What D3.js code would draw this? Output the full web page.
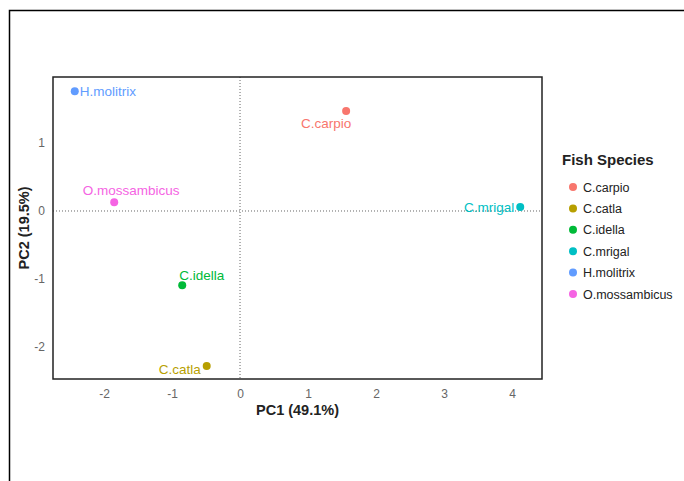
<!DOCTYPE html>
<html>
<head>
<meta charset="utf-8">
<script src="https://cdn.jsdelivr.net/npm/d3@7"></script>
<style>
  body { margin: 0; background: #fff; font-family: Arial, "Liberation Sans", sans-serif; }
</style>
</head>
<body>
<div id="chart"></div>
<script>
// ---- Data --------------------------------------------------------------------
const species = ['C.carpio', 'C.catla', 'C.idella', 'C.mrigal', 'H.molitrix', 'O.mossambicus'];
const pc1     = [1.56, -0.49, -0.85, 4.12, -2.43, -1.85];
const pc2     = [1.47, -2.28, -1.09, 0.06, 1.76, 0.13];
const colors  = ['#F8766D', '#B79F00', '#00BA38', '#00BFC4', '#619CFF', '#F564E3'];
const xTicks  = [-2, -1, 0, 1, 2, 3, 4];
const yTicks  = [-2, -1, 0, 1];

// repelled label placement (dx, dy, anchor) — layout only
const labelPos = {
  'C.carpio':      [-20, 17, 'middle'],
  'C.catla':       [-6, 8, 'end'],
  'C.idella':      [-3, -5, 'start'],
  'C.mrigal':      [-6, 5, 'end'],
  'H.molitrix':    [5, 5, 'start'],
  'O.mossambicus': [17, -7, 'middle']
};

const W = 684, H = 481;
const P = { left: 53, right: 542, top: 77, bottom: 379 };

const svg = d3.select('#chart').append('svg')
  .attr('width', W).attr('height', H);

// outer frame (top + left only)
svg.append('path')
  .attr('d', `M9.5,${H} L9.5,10.5 L${W},10.5`)
  .attr('fill', 'none').attr('stroke', '#000').attr('stroke-width', 1.5);

const x = d3.scaleLinear().domain([-2.75, 4.44]).range([P.left, P.right]);
const y = d3.scaleLinear().domain([-2.47, 1.97]).range([P.bottom, P.top]);

// ---- Reference lines ---------------------------------------------------------
svg.append('line')
  .attr('x1', P.left).attr('x2', P.right).attr('y1', y(0)).attr('y2', y(0))
  .attr('stroke', '#666').attr('stroke-width', 1).attr('stroke-dasharray', '1,2');
svg.append('line')
  .attr('x1', x(0)).attr('x2', x(0)).attr('y1', P.top).attr('y2', P.bottom)
  .attr('stroke', '#666').attr('stroke-width', 1).attr('stroke-dasharray', '1,2');

// ---- Axes --------------------------------------------------------------------
svg.append('g')
  .attr('transform', `translate(0,${P.bottom})`)
  .call(d3.axisBottom(x).tickValues(xTicks).tickFormat(d => String(d)).tickSize(0).tickPadding(10))
  .call(g => g.select('.domain').remove())
  .call(g => g.selectAll('text').style('font-size', '12px').attr('fill', '#666'));

svg.append('g')
  .attr('transform', `translate(${P.left},0)`)
  .call(d3.axisLeft(y).tickValues(yTicks).tickFormat(d => String(d)).tickSize(0).tickPadding(8))
  .call(g => g.select('.domain').remove())
  .call(g => g.selectAll('text').style('font-size', '12px').attr('fill', '#666'));

// panel border
svg.append('rect')
  .attr('x', P.left).attr('y', P.top)
  .attr('width', P.right - P.left).attr('height', P.bottom - P.top)
  .attr('fill', 'none').attr('stroke', '#222').attr('stroke-width', 1.5);

// axis titles
svg.append('text')
  .attr('x', (P.left + P.right) / 2).attr('y', 415)
  .attr('text-anchor', 'middle')
  .style('font-size', '14.5px').style('font-weight', 'bold').attr('fill', '#222')
  .text('PC1 (49.1%)');

svg.append('text')
  .attr('transform', `translate(29,${(P.top + P.bottom) / 2}) rotate(-90)`)
  .attr('text-anchor', 'middle')
  .style('font-size', '14.5px').style('font-weight', 'bold').attr('fill', '#222')
  .text('PC2 (19.5%)');

// ---- Points + labels ---------------------------------------------------------
species.forEach((s, i) => {
  const cx = x(pc1[i]), cy = y(pc2[i]);
  svg.append('circle')
    .attr('cx', cx).attr('cy', cy).attr('r', 4)
    .attr('fill', colors[i]);
  const [dx, dy, anchor] = labelPos[s];
  svg.append('text')
    .attr('x', cx + dx).attr('y', cy + dy)
    .attr('text-anchor', anchor)
    .style('font-size', '13.5px')
    .attr('fill', colors[i])
    .text(s);
});

// ---- Legend ------------------------------------------------------------------
const lg = svg.append('g').attr('transform', 'translate(562,0)');
lg.append('text')
  .attr('x', 0).attr('y', 165)
  .style('font-size', '15px').style('font-weight', 'bold').attr('fill', '#222')
  .text('Fish Species');

const ly = d3.scalePoint().domain(species).range([187, 294]);
species.forEach((s, i) => {
  lg.append('circle')
    .attr('cx', 11).attr('cy', ly(s)).attr('r', 4)
    .attr('fill', colors[i]);
  lg.append('text')
    .attr('x', 21).attr('y', ly(s) + 4.5)
    .style('font-size', '12.5px').attr('fill', '#222')
    .text(s);
});
</script>
</body>
</html>
